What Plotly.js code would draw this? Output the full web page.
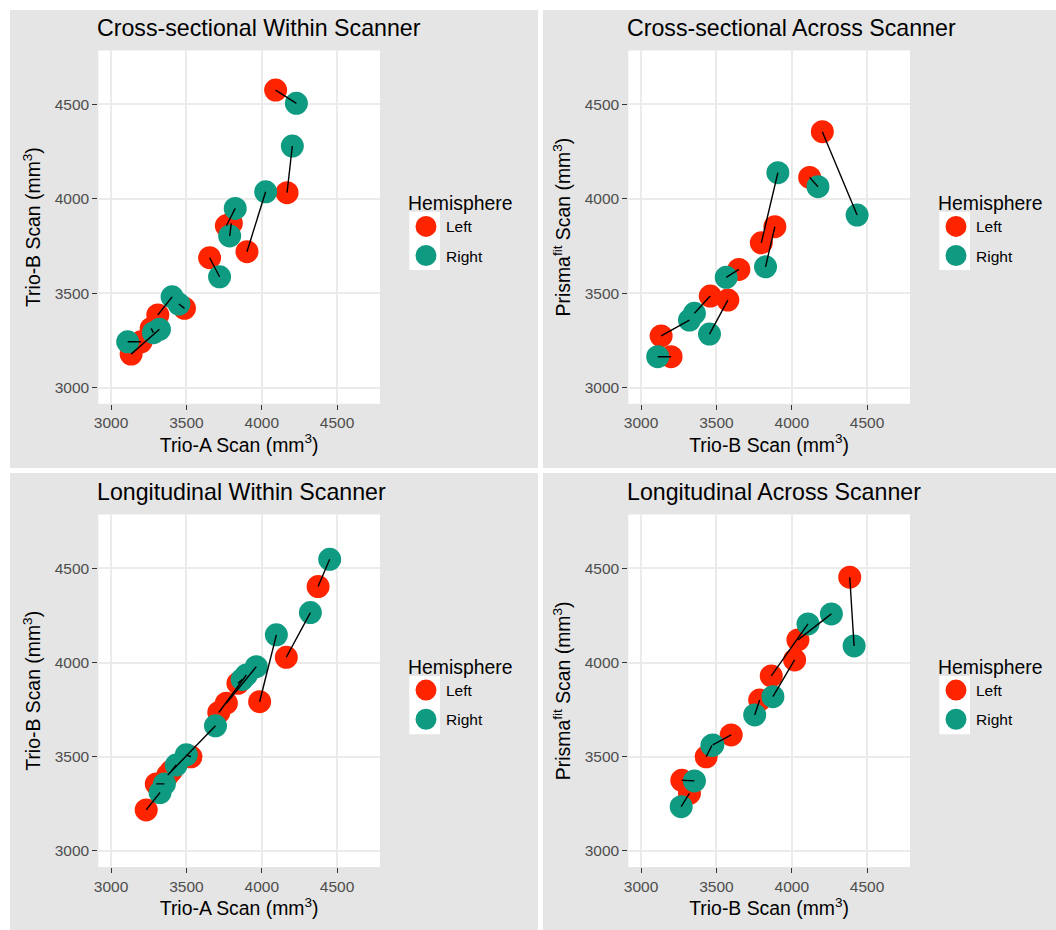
<!DOCTYPE html>
<html><head><meta charset="utf-8">
<script src="https://cdn.plot.ly/plotly-3.0.1.min.js"></script>
<style>html,body{margin:0;padding:0;background:#fff}#chart{width:1056px;height:930px}</style>
</head><body><div id="chart"></div>
<script>
// ---------- data ----------
const hemispheres = ['Left', 'Right'];
const tickValues = [3000, 3500, 4000, 4500];
const tickLabels = ['3000', '3500', '4000', '4500'];
const panelTitles = ['Cross-sectional Within Scanner', 'Cross-sectional Across Scanner',
                     'Longitudinal Within Scanner', 'Longitudinal Across Scanner'];
const xTitles = ['Trio-A Scan (mm<sup>3</sup>)', 'Trio-B Scan (mm<sup>3</sup>)',
                 'Trio-A Scan (mm<sup>3</sup>)', 'Trio-B Scan (mm<sup>3</sup>)'];
const yTitles = ['Trio-B Scan (mm<sup>3</sup>)', 'Prisma<sup>fit</sup> Scan (mm<sup>3</sup>)',
                 'Trio-B Scan (mm<sup>3</sup>)', 'Prisma<sup>fit</sup> Scan (mm<sup>3</sup>)'];

// Panel 1: Cross-sectional Within Scanner (one entry per subject)
const p1LeftX  = [4092, 4168, 3902, 3765, 3798, 3654, 3310, 3487, 3133, 3199, 3266];
const p1LeftY  = [4575, 4032, 3720, 3857, 3870, 3688, 3385, 3420, 3178, 3243, 3314];
const p1RightX = [4230, 4203, 4026, 3824, 3787, 3720, 3405, 3450, 3321, 3110, 3281];
const p1RightY = [4505, 4279, 4037, 3949, 3803, 3587, 3481, 3443, 3309, 3243, 3291];

// Panel 2: Cross-sectional Across Scanner
const p2LeftX  = [4203, 4119, 3798, 3888, 3649, 3459, 3576, 3133, 3199];
const p2LeftY  = [4355, 4113, 3767, 3852, 3626, 3485, 3464, 3274, 3164];
const p2RightX = [4434, 4174, 3908, 3826, 3565, 3354, 3454, 3321, 3110];
const p2RightY = [3914, 4064, 4138, 3640, 3584, 3394, 3284, 3358, 3164];

// Panel 3: Longitudinal Within Scanner
const p3LeftX  = [4374, 4163, 3986, 3765, 3715, 3842, 3376, 3530, 3400, 3300, 3233];
const p3LeftY  = [4403, 4028, 3792, 3784, 3735, 3890, 3403, 3500, 3425, 3356, 3218];
const p3RightX = [4451, 4323, 4097, 3964, 3898, 3870, 3693, 3499, 3432, 3354, 3325];
const p3RightY = [4548, 4265, 4147, 3978, 3934, 3910, 3664, 3510, 3456, 3356, 3310];

// Panel 4: Longitudinal Across Scanner
const p4LeftX  = [4385, 4041, 3864, 4019, 3787, 3598, 3432, 3270, 3321];
const p4LeftY  = [4453, 4120, 3929, 4014, 3801, 3616, 3500, 3375, 3306];
const p4RightX = [4414, 4263, 4108, 3875, 3754, 3476, 3470, 3354, 3266];
const p4RightY = [4088, 4258, 4205, 3819, 3722, 3563, 3560, 3372, 3235];

const panels = [
  {lx: p1LeftX, ly: p1LeftY, rx: p1RightX, ry: p1RightY},
  {lx: p2LeftX, ly: p2LeftY, rx: p2RightX, ry: p2RightY},
  {lx: p3LeftX, ly: p3LeftY, rx: p3RightX, ry: p3RightY},
  {lx: p4LeftX, ly: p4LeftY, rx: p4RightX, ry: p4RightY}
];

// ---------- style ----------
const W = 1056, H = 930;
const RED = '#FF2400', GREEN = '#0F9B82';
const FONT = 'Liberation Sans, Arial, Helvetica, sans-serif';
const px2x = v => v / W, py2y = v => 1 - v / H;
const panelBox = [
  {l: 98.3, r: 380, t: 50.4, b: 403.8},
  {l: 628.3, r: 910, t: 50.4, b: 403.8},
  {l: 98.3, r: 380, t: 514.6, b: 867},
  {l: 628.3, r: 910, t: 514.6, b: 867}
];
const quadBox = [
  {l: 10, r: 538, t: 10, b: 468},
  {l: 543, r: 1056, t: 10, b: 468},
  {l: 10, r: 538, t: 473, b: 930},
  {l: 543, r: 1056, t: 473, b: 930}
];

const traces = [];
const layout = {
  width: W, height: H,
  margin: {l: 0, r: 0, t: 0, b: 0},
  paper_bgcolor: '#ffffff',
  plot_bgcolor: '#ffffff',
  font: {family: FONT, color: '#000000'},
  showlegend: true,
  shapes: [], annotations: []
};

quadBox.forEach(q => layout.shapes.push({
  type: 'rect', xref: 'paper', yref: 'paper', layer: 'below',
  x0: px2x(q.l), x1: px2x(q.r), y0: py2y(q.b), y1: py2y(q.t),
  fillcolor: '#e5e5e5', line: {width: 0}
}));

panels.forEach((p, i) => {
  const n = i === 0 ? '' : String(i + 1);
  const xa = 'x' + n, ya = 'y' + n;
  const leg = 'legend' + n;
  const box = panelBox[i];

  traces.push({
    type: 'scatter', mode: 'markers', x: p.lx, y: p.ly, name: hemispheres[0],
    xaxis: xa, yaxis: ya, legend: leg, legendgroup: 'L' + i,
    marker: {color: RED, size: 18, line: {color: RED, width: 5}},
    hoverinfo: 'x+y+name'
  });
  traces.push({
    type: 'scatter', mode: 'markers', x: p.rx, y: p.ry, name: hemispheres[1],
    xaxis: xa, yaxis: ya, legend: leg, legendgroup: 'R' + i,
    marker: {color: GREEN, size: 18, line: {color: GREEN, width: 5}},
    hoverinfo: 'x+y+name'
  });
  const segX = [], segY = [];
  p.lx.forEach((v, k) => { segX.push(p.lx[k], p.rx[k], null); segY.push(p.ly[k], p.ry[k], null); });
  traces.push({
    type: 'scatter', mode: 'lines', x: segX, y: segY, xaxis: xa, yaxis: ya,
    line: {color: '#000000', width: 1.4}, showlegend: false, hoverinfo: 'skip'
  });

  const axCommon = {
    range: [2915, 4785], tickmode: 'array', tickvals: tickValues, ticktext: tickLabels,
    ticks: 'outside', ticklen: 5, tickwidth: 1, tickcolor: '#333333',
    tickfont: {size: 15.5, color: '#4d4d4d', family: FONT},
    showgrid: true, gridcolor: '#ebebeb', gridwidth: 1.5,
    zeroline: false, showline: false, fixedrange: true
  };
  layout['xaxis' + n] = Object.assign({}, axCommon, {
    domain: [px2x(box.l), px2x(box.r)], anchor: ya,
    title: {text: xTitles[i], font: {size: 19.4, color: '#000000', family: FONT}, standoff: 6}
  });
  layout['yaxis' + n] = Object.assign({}, axCommon, {
    domain: [py2y(box.b), py2y(box.t)], anchor: xa,
    title: {text: yTitles[i], font: {size: 19.4, color: '#000000', family: FONT}, standoff: 8}
  });

  layout.shapes.push({
    type: 'rect', xref: xa + ' domain', yref: ya + ' domain', layer: 'below',
    x0: 0, x1: 1, y0: 0, y1: 1, fillcolor: '#ffffff', line: {width: 0}
  });

  // white key background behind legend symbols
  const keyTop = box.t + 161.3, keyBot = box.t + 219.6;
  layout.shapes.push({
    type: 'rect', xref: 'paper', yref: 'paper', layer: 'below',
    x0: px2x(box.r + 29.3), x1: px2x(box.r + 60), y0: py2y(keyBot), y1: py2y(keyTop),
    fillcolor: '#ffffff', line: {width: 0}
  });

  layout[leg] = {
    x: px2x(box.r + 26), y: py2y((box.t + box.b) / 2 + 1.5), xanchor: 'left', yanchor: 'middle',
    bgcolor: 'rgba(0,0,0,0)', borderwidth: 0,
    title: {text: 'Hemisphere', font: {size: 19.4, color: '#000000', family: FONT}},
    font: {size: 15.5, color: '#000000', family: FONT},
    traceorder: 'grouped', tracegroupgap: 6,
    itemclick: false, itemdoubleclick: false
  };

  layout.annotations.push({
    xref: 'paper', yref: 'paper', x: px2x(box.l - 3), y: py2y(box.t - 22.5),
    xanchor: 'left', yanchor: 'middle', showarrow: false,
    text: panelTitles[i], font: {size: 23.2, color: '#000000', family: FONT}
  });
});

Plotly.newPlot('chart', traces, layout, {displayModeBar: false, staticPlot: false});
</script>
</body></html>
